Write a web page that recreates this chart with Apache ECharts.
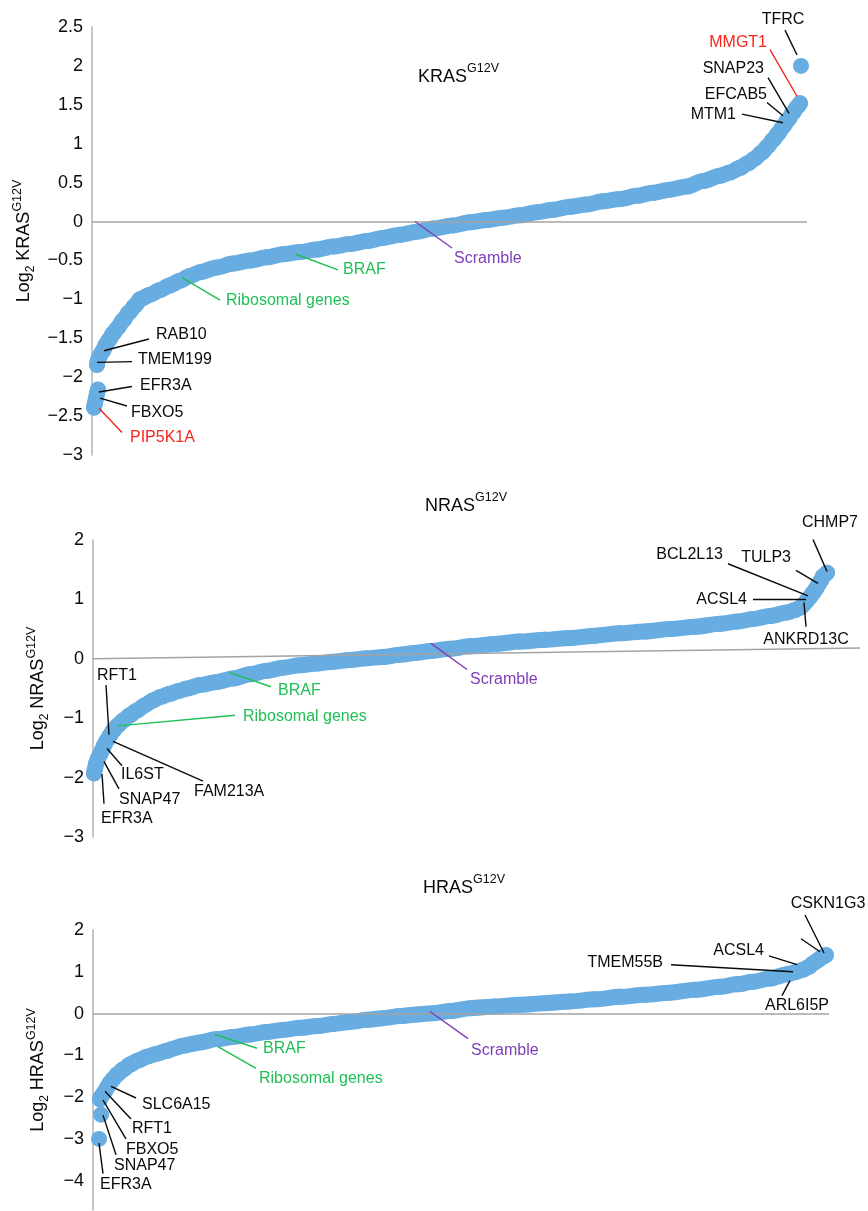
<!DOCTYPE html>
<html>
<head>
<meta charset="utf-8">
<script src="https://cdn.jsdelivr.net/npm/echarts@6/dist/echarts.min.js"></script>
<style>
  html, body { margin: 0; padding: 0; background: #fff; }
  #chart { width: 868px; height: 1211px; }
</style>
</head>
<body>
<div id="chart"></div>
<script>
// rank position along each screen (x) and log2 fold change (y); null = gap between groups
var krasRank = [2, 3, 4, 5, 6, 6,
  5, 6, 8, 11, 14, 17, 21, 26, 31, 37, 43, 48, 58, 68, 78, 88, 98, 108, 125, 141,
  158, 175, 191, 208, 225, 241, 258, 275, 291, 308, 325, 341, 361, 378,
  395, 411, 428, 445, 461, 478, 495, 511, 528, 545, 561, 578, 595, 611, 628,
  638, 648, 656, 663, 670, 676, 681, 686, 691, 696, 701, 705, 708, 708, 709];
var krasLog2 = [-2.39, -2.33, -2.27, -2.21, -2.16, null,
  -1.84, -1.78, -1.72, -1.66, -1.58, -1.52, -1.44, -1.36, -1.27, -1.17, -1.08, -1.00, -0.94, -0.88, -0.82, -0.76, -0.70, -0.65, -0.59, -0.54,
  -0.50, -0.46, -0.42, -0.39, -0.36, -0.32, -0.29, -0.25, -0.21, -0.17, -0.13, -0.09, -0.05, -0.01,
  0.02, 0.05, 0.08, 0.12, 0.15, 0.19, 0.22, 0.26, 0.29, 0.33, 0.37, 0.41, 0.45, 0.52, 0.59,
  0.63, 0.69, 0.75, 0.81, 0.89, 0.97, 1.05, 1.13, 1.22, 1.31, 1.40, 1.47, 1.52, null, 2.0];

var nrasRank = [1, 2, 3, 5, 7, 9, 11, 14, 17, 20, 25, 30, 37, 44, 52, 60, 68, 77, 86, 94,
  107, 124, 140, 157, 174, 190, 207, 224, 240, 257, 274, 290, 307, 324, 337, 357, 377,
  402, 427, 452, 477, 502, 527, 552, 577, 602, 627, 645, 660, 677, 694, 702, 707, 711, 714, 717, 720, 723, 725, 728, 730, 734];
var nrasLog2 = [-1.93, -1.85, -1.77, -1.68, -1.61, -1.54, -1.46, -1.37, -1.29, -1.21, -1.12, -1.04, -0.95, -0.87, -0.78, -0.70, -0.64, -0.59, -0.54, -0.50,
  -0.44, -0.39, -0.33, -0.26, -0.20, -0.15, -0.11, -0.08, -0.05, -0.02, 0.01, 0.03, 0.07, 0.10, 0.13, 0.17, 0.21,
  0.25, 0.29, 0.32, 0.35, 0.39, 0.43, 0.46, 0.50, 0.54, 0.59, 0.63, 0.67, 0.72, 0.78, 0.82, 0.86, 0.92, 0.98, 1.04, 1.11, 1.18, 1.24, 1.32, 1.39, 1.45];

var hrasRank = [6, 7, 8, 8,
  7, 9, 12, 14, 17, 20, 24, 30, 37, 45, 54, 64, 74, 80, 90, 100, 107,
  124, 140, 157, 174, 190, 207, 224, 240, 257, 274, 290, 307, 324, 340, 357, 377,
  402, 427, 452, 477, 502, 527, 552, 577, 602, 627, 644, 660, 677, 694, 702, 710, 716, 720, 725, 729, 733];
var hrasLog2 = [-3.0, null, -2.42, null,
  -2.05, -1.96, -1.86, -1.77, -1.66, -1.57, -1.46, -1.34, -1.22, -1.12, -1.03, -0.96, -0.89, -0.84, -0.77, -0.72, -0.69,
  -0.61, -0.56, -0.50, -0.44, -0.39, -0.34, -0.30, -0.25, -0.20, -0.15, -0.11, -0.06, -0.02, 0.01, 0.06, 0.13,
  0.17, 0.21, 0.25, 0.29, 0.34, 0.40, 0.45, 0.50, 0.57, 0.64, 0.70, 0.76, 0.84, 0.94, 0.99, 1.05, 1.12, 1.20, 1.28, 1.35, 1.40];

// reference lines: [from, to]
var krasZero = [[0, 0], [715, 0]];
var nrasZero = [[0, 0], [767, 0.18]];
var hrasZero = [[0, 0], [736, 0]];

// y axis tick labels
var krasTicks = [-3, -2.5, -2, -1.5, -1, -0.5, 0, 0.5, 1, 1.5, 2, 2.5];
var nrasTicks = [-3, -2, -1, 0, 1, 2];
var hrasTicks = [-4, -3, -2, -1, 0, 1, 2];

// gene callouts: label, colour key, label at [rank, log2], anchor, leader from [rank, log2] to [rank, log2]
var krasNotes = [
  ['RAB10', 'k', 64, -1.45, 'left', 57, -1.51, 12, -1.66],
  ['TMEM199', 'k', 46, -1.78, 'left', 40, -1.80, 5, -1.81],
  ['EFR3A', 'k', 48, -2.11, 'left', 40, -2.12, 7, -2.19],
  ['FBXO5', 'k', 39, -2.46, 'left', 35, -2.37, 8, -2.27],
  ['PIP5K1A', 'r', 38, -2.78, 'left', 30, -2.71, 7, -2.40],
  ['Ribosomal genes', 'g', 134, -1.01, 'left', 128, -1.01, 90, -0.72],
  ['BRAF', 'g', 251, -0.62, 'left', 246, -0.62, 204, -0.42],
  ['Scramble', 'p', 362, -0.48, 'left', 360, -0.34, 323, 0],
  ['TFRC', 'k', 691, 2.60, 'center', 693, 2.46, 705, 2.14],
  ['MMGT1', 'r', 675, 2.30, 'right', 678, 2.21, 705, 1.61],
  ['SNAP23', 'k', 672, 1.97, 'right', 676, 1.85, 697, 1.39],
  ['EFCAB5', 'k', 675, 1.63, 'right', 675, 1.53, 691, 1.36],
  ['MTM1', 'k', 644, 1.38, 'right', 650, 1.38, 691, 1.27]
];
var nrasNotes = [
  ['RFT1', 'k', 4, -0.28, 'left', 13, -0.44, 16, -1.28],
  ['Ribosomal genes', 'g', 150, -0.97, 'left', 142, -0.95, 25, -1.13],
  ['BRAF', 'g', 185, -0.54, 'left', 178, -0.47, 136, -0.23],
  ['IL6ST', 'k', 28, -1.95, 'left', 29, -1.80, 14, -1.51],
  ['FAM213A', 'k', 101, -2.23, 'left', 110, -2.06, 20, -1.39],
  ['SNAP47', 'k', 26, -2.37, 'left', 26, -2.19, 11, -1.73],
  ['EFR3A', 'k', 8, -2.69, 'left', 11, -2.44, 9, -1.94],
  ['Scramble', 'p', 377, -0.35, 'left', 374, -0.18, 338, 0.26],
  ['CHMP7', 'k', 737, 2.29, 'center', 720, 2.01, 734, 1.47],
  ['BCL2L13', 'k', 630, 1.75, 'right', 635, 1.60, 715, 1.06],
  ['TULP3', 'k', 698, 1.70, 'right', 703, 1.49, 725, 1.27],
  ['ACSL4', 'k', 654, 1.0, 'right', 660, 1.0, 713, 1.0],
  ['ANKRD13C', 'k', 713, 0.32, 'center', 713, 0.54, 711, 0.95]
];
var hrasNotes = [
  ['BRAF', 'g', 170, -0.83, 'left', 164, -0.83, 122, -0.50],
  ['Ribosomal genes', 'g', 166, -1.55, 'left', 163, -1.31, 125, -0.79],
  ['SLC6A15', 'k', 49, -2.17, 'left', 43, -2.02, 18, -1.74],
  ['RFT1', 'k', 39, -2.76, 'left', 38, -2.52, 12, -1.86],
  ['FBXO5', 'k', 33, -3.26, 'left', 33, -3.0, 10, -2.07],
  ['SNAP47', 'k', 21, -3.64, 'left', 23, -3.38, 10, -2.43],
  ['EFR3A', 'k', 7, -4.10, 'left', 10, -3.83, 6, -3.10],
  ['Scramble', 'p', 378, -0.88, 'left', 375, -0.60, 337, 0.05],
  ['CSKN1G3', 'k', 735, 2.64, 'center', 712, 2.36, 731, 1.45],
  ['', 'k', 0, 0, 'left', 708, 1.79, 727, 1.48],
  ['ACSL4', 'k', 671, 1.50, 'right', 676, 1.38, 704, 1.17],
  ['TMEM55B', 'k', 570, 1.21, 'right', 578, 1.17, 700, 1.0],
  ['ARL6I5P', 'k', 704, 0.19, 'center', 689, 0.43, 697, 0.79]
];

var FONT = '"Liberation Sans", Arial, Helvetica, sans-serif';
var INK = '#0a0a0a';
var BLUE = '#67ade2';
var COLORS = { k: INK, r: '#f5261c', g: '#1fbf55', p: '#7e3db8' };

var panels = [
  { gene: 'KRAS', rank: krasRank, vals: krasLog2, notes: krasNotes, zero: krasZero, ticks: krasTicks,
    grid: { left: 92, right: 61, top: 27, height: 428 }, xMax: 715, yMin: -3, yMax: 2.5,
    nameGap: 48, title: { left: 418, top: 62 } },
  { gene: 'NRAS', rank: nrasRank, vals: nrasLog2, notes: nrasNotes, zero: nrasZero, ticks: nrasTicks,
    grid: { left: 93, right: 8, top: 540, height: 297 }, xMax: 767, yMin: -3, yMax: 2,
    nameGap: 42, title: { left: 425, top: 491 } },
  { gene: 'HRAS', rank: hrasRank, vals: hrasLog2, notes: hrasNotes, zero: hrasZero, ticks: hrasTicks,
    grid: { left: 93, right: 39, top: 930, height: 280 }, xMax: 736, yMin: -4.7, yMax: 2,
    nameGap: 42, title: { left: 423, top: 873 } }
];

function minus(v) {
  return v < 0 ? '\u2212' + Math.abs(v) : String(v);
}

var titleRich = {
  n: { fontSize: 18, fontFamily: FONT, fontWeight: 'normal', color: INK, lineHeight: 24, verticalAlign: 'bottom' },
  s: { fontSize: 12.5, fontFamily: FONT, fontWeight: 'normal', color: INK, lineHeight: 24, verticalAlign: 'top' }
};
var nameRich = {
  n: { fontSize: 18, fontFamily: FONT, color: INK, lineHeight: 26 },
  b: { fontSize: 12, fontFamily: FONT, color: INK, lineHeight: 26, verticalAlign: 'bottom' },
  p: { fontSize: 12.5, fontFamily: FONT, color: INK, lineHeight: 26, verticalAlign: 'top' }
};

var option = {
  animation: false,
  backgroundColor: '#fff',
  title: [],
  grid: [],
  xAxis: [],
  yAxis: [],
  series: []
};

panels.forEach(function (p, i) {
  option.title.push({
    text: '{n|' + p.gene + '}{s|G12V}',
    left: p.title.left,
    top: p.title.top,
    padding: 0,
    textStyle: { fontWeight: 'normal', rich: titleRich }
  });
  option.grid.push(p.grid);
  option.xAxis.push({
    type: 'value', gridIndex: i, min: 0, max: p.xMax, show: false
  });
  option.yAxis.push({
    type: 'value', gridIndex: i, min: p.yMin, max: p.yMax,
    name: '{n|Log}{b|2}{n| ' + p.gene + '}{p|G12V}',
    nameLocation: 'middle', nameRotate: 90, nameGap: p.nameGap,
    nameTextStyle: { rich: nameRich },
    axisLine: { show: true, lineStyle: { color: '#b3b3b3', width: 1.5 } },
    axisTick: { show: false },
    splitLine: { show: false },
    axisLabel: {
      customValues: p.ticks,
      fontSize: 18, fontFamily: FONT, color: INK, margin: 9,
      formatter: minus
    }
  });

  // sorted screen values as a dense run of dots
  option.series.push({
    type: 'line', xAxisIndex: i, yAxisIndex: i,
    data: p.rank.map(function (r, k) { return [r, p.vals[k] === null ? '-' : p.vals[k]]; }),
    connectNulls: false,
    smooth: 0.3, smoothMonotone: 'x',
    clip: false,
    symbol: 'circle', symbolSize: 16, showSymbol: true,
    lineStyle: { color: BLUE, width: 16, cap: 'round', join: 'round' },
    itemStyle: { color: BLUE, borderWidth: 0 },
    silent: true, z: 2
  });

  // zero line and leader lines
  var segs = [{ coords: p.zero, lineStyle: { color: '#a3a3a3', width: 1.5 } }];
  p.notes.forEach(function (n) {
    segs.push({ coords: [[n[5], n[6]], [n[7], n[8]]], lineStyle: { color: COLORS[n[1]], width: 1.4 } });
  });
  option.series.push({
    type: 'lines', coordinateSystem: 'cartesian2d', xAxisIndex: i, yAxisIndex: i,
    data: segs, clip: false, silent: true, z: 4,
    lineStyle: { opacity: 1, curveness: 0 }
  });

  // callout text
  option.series.push({
    type: 'scatter', xAxisIndex: i, yAxisIndex: i,
    symbolSize: 1, clip: false, silent: true, z: 5,
    itemStyle: { color: 'rgba(0,0,0,0)' },
    data: p.notes.filter(function (n) { return n[0]; }).map(function (n) {
      return {
        name: n[0], value: [n[2], n[3]],
        label: { align: n[4], color: COLORS[n[1]] }
      };
    }),
    label: {
      show: true, position: 'inside', formatter: '{b}',
      fontSize: 16, fontFamily: FONT, verticalAlign: 'middle',
      textBorderWidth: 0, opacity: 1
    }
  });
});

var chart = echarts.init(document.getElementById('chart'), null, { renderer: 'canvas' });
chart.setOption(option);
</script>
</body>
</html>
